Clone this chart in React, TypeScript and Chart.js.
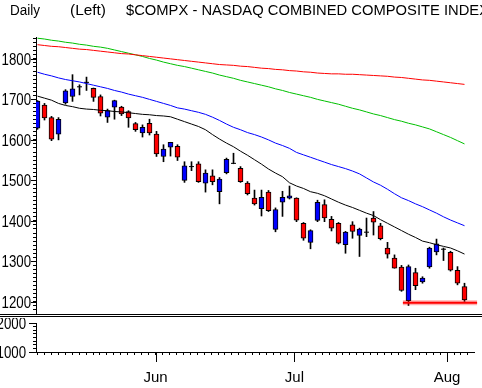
import React, { useEffect, useRef } from 'react';
import { Chart, registerables } from 'chart.js';

Chart.register(...registerables);

// ---- data ----
const dates = [
  '2002-05-08','2002-05-09','2002-05-10','2002-05-13','2002-05-14','2002-05-15','2002-05-16','2002-05-17','2002-05-20','2002-05-21',
  '2002-05-22','2002-05-23','2002-05-24','2002-05-28','2002-05-29','2002-05-30','2002-05-31',
  '2002-06-03','2002-06-04','2002-06-05','2002-06-06','2002-06-07','2002-06-10','2002-06-11','2002-06-12','2002-06-13','2002-06-14',
  '2002-06-17','2002-06-18','2002-06-19','2002-06-20','2002-06-21','2002-06-24','2002-06-25','2002-06-26','2002-06-27','2002-06-28',
  '2002-07-01','2002-07-02','2002-07-03','2002-07-05','2002-07-08','2002-07-09','2002-07-10','2002-07-11','2002-07-12','2002-07-15',
  '2002-07-16','2002-07-17','2002-07-18','2002-07-19','2002-07-22','2002-07-23','2002-07-24','2002-07-25','2002-07-26','2002-07-29',
  '2002-07-30','2002-07-31','2002-08-01','2002-08-02','2002-08-05'
];

const opens = [1629,1686,1655,1614,1691,1707,1731,1742,1727,1707, 1656,1681,1681,1670,1640,1617,1641,1614,1559,1582, 1584,1500,1534,1541,1493,1511,1472,1519,1542,1530, 1493,1456,1430,1471,1379,1446,1456,1456,1394,1347, 1401,1440,1404,1394,1341,1390,1364,1372,1407,1388, 1333,1308,1286,1203,1272,1249,1286,1323,1330,1322, 1278,1238];
const highs = [1697,1690,1658,1655,1724,1761,1736,1755,1728,1711, 1676,1698,1683,1672,1643,1637,1651,1621,1588,1594, 1588,1546,1546,1546,1526,1526,1507,1555,1567,1534, 1497,1476,1476,1475,1432,1473,1486,1457,1396,1378, 1451,1452,1411,1396,1374,1398,1382,1407,1423,1394, 1347,1316,1290,1291,1283,1262,1335,1355,1333,1325, 1287,1246];
const lows = [1626,1649,1598,1600,1688,1695,1711,1722,1695,1659, 1643,1651,1660,1631,1621,1607,1612,1559,1546,1560, 1549,1495,1524,1495,1471,1489,1442,1516,1541,1495, 1464,1439,1412,1423,1373,1411,1454,1398,1352,1331, 1398,1398,1375,1343,1320,1357,1312,1361,1365,1353, 1308,1283,1226,1191,1230,1246,1283,1316,1302,1276, 1242,1201];
const closes = [1696,1654,1602,1651,1721,1726,1731,1742,1705,1666, 1672,1697,1664,1654,1625,1631,1617,1565,1577,1594, 1557,1536,1534,1497,1518,1497,1503,1552,1542,1497, 1467,1442,1458,1425,1428,1458,1462,1402,1357,1376, 1446,1407,1382,1345,1372,1374,1380,1372,1397,1356, 1318,1283,1228,1287,1240,1259,1333,1343,1330,1278, 1246,1205];

const maBlack = [1708,1703,1698,1690,1685,1682,1678,1676,1675,1673, 1672,1670,1669,1667,1665,1663,1662,1660,1659,1657, 1651,1645,1639,1633,1625,1613,1602,1592,1583,1572, 1562,1551,1540,1528,1518,1509,1494,1486,1480,1472, 1468,1462,1454,1446,1439,1433,1426,1419,1413,1403, 1394,1385,1376,1367,1359,1350,1346,1341,1337,1333, 1326,1318];
const maBlue = [1767,1762,1758,1753,1749,1746,1743,1739,1735,1731, 1727,1722,1718,1713,1709,1705,1700,1695,1690,1685, 1679,1676,1672,1668,1663,1656,1648,1639,1631,1625, 1618,1613,1607,1600,1592,1586,1579,1569,1563,1557, 1551,1545,1539,1534,1529,1523,1516,1506,1496,1488, 1478,1467,1457,1450,1442,1435,1427,1419,1410,1402, 1395,1388];
const maGreen = [1851,1849,1846,1844,1841,1839,1836,1834,1831,1829, 1826,1822,1818,1814,1810,1806,1801,1797,1792,1788, 1784,1781,1777,1773,1769,1765,1760,1756,1752,1747, 1743,1739,1735,1731,1726,1722,1717,1713,1709,1705, 1700,1696,1692,1688,1683,1678,1674,1669,1664,1660, 1655,1650,1646,1641,1637,1632,1627,1620,1613,1606, 1598,1590];
const maRed = [1835,1833,1831,1830,1828,1826,1824,1823,1821,1819, 1817,1815,1813,1812,1810,1808,1806,1804,1802,1800, 1798,1796,1794,1792,1790,1788,1786,1785,1784,1782, 1781,1779,1777,1776,1774,1773,1771,1770,1768,1767, 1765,1764,1763,1763,1762,1762,1761,1760,1759,1758, 1757,1755,1754,1752,1750,1748,1747,1745,1743,1741, 1739,1737];

const supportLevel = 1198;
const supportFrom = 52.2;
const supportTo = 62.8;

const priceMin = 1170;
const priceMax = 1854;
const priceTickStep = 10;
const priceLabelStep = 100;
const volMin = 1000;
const volMax = 2000;
const volTickStep = 125;
const volLabels = [1000, 2000];

const titleParts = ['Daily', '(Left)', '$COMPX - NASDAQ COMBINED COMPOSITE INDEX'];
const monthNames = ['Jan','Feb','Mar','Apr','May','Jun','Jul','Aug','Sep','Oct','Nov','Dec'];

// ---- style ----
const AXIS_FONT = "'Liberation Sans', Arial, sans-serif";
const TITLE_FONT = "'Liberation Sans', Arial, sans-serif";
const UP = '#0000ff';
const DOWN = '#ff0000';
const X_MIN = -1.5 / 7;
const X_MAX = X_MIN + 442 / 7;

export default function App() {
  const mainRef = useRef<HTMLCanvasElement>(null);
  const volRef = useRef<HTMLCanvasElement>(null);

  useEffect(() => {
    const n = dates.length;
    const idx = dates.map((_, i) => i);
    const isDoji = idx.map((i) => opens[i] === closes[i]);
    const monthStart: Record<number, string> = {};
    for (let i = 1; i < n; i++) {
      const m0 = dates[i - 1].slice(5, 7);
      const m1 = dates[i].slice(5, 7);
      if (m0 !== m1) monthStart[i] = monthNames[parseInt(m1, 10) - 1];
    }

    const wickData = idx.map((i) => ({ x: i, y: [lows[i], highs[i]] }));
    const bodyIdx = idx.filter((i) => !isDoji[i]);
    const bodyData = bodyIdx.map((i) => ({ x: i, y: [opens[i], closes[i]] }));
    const bodyColors = bodyIdx.map((i) => (closes[i] > opens[i] ? UP : DOWN));
    const dojiData = idx.filter((i) => isDoji[i]).map((i) => ({ x: i, y: closes[i] }));
    const line = (arr: number[]) => arr.map((v, i) => ({ x: i, y: v }));

    const titlePlugin = {
      id: 'titleText',
      afterDraw(chart: any) {
        const ctx = chart.ctx;
        ctx.save();
        ctx.fillStyle = '#000';
        ctx.font = `14px ${TITLE_FONT}`;
        ctx.textBaseline = 'alphabetic';
        const xs = [10, 70, 126];
        const widths = [30, 36, 363];
        titleParts.forEach((t, k) => {
          const w = ctx.measureText(t).width;
          ctx.save();
          ctx.translate(xs[k], 15);
          ctx.scale(widths[k] / w, 1);
          ctx.fillText(t, 0, 0);
          ctx.restore();
        });
        ctx.restore();
      },
    };

    // y-axis labels drawn from the library's own tick list, with a narrow glyph width
    const yAxisLabels = (show: (v: number) => boolean, rightX: number, major: number) => ({
      id: 'yAxisLabels',
      afterDraw(chart: any) {
        const s = chart.scales.y;
        const ctx = chart.ctx;
        const left = chart.chartArea.left;
        ctx.save();
        ctx.fillStyle = '#000';
        ctx.strokeStyle = '#000';
        ctx.lineWidth = 1;
        ctx.font = `17px ${AXIS_FONT}`;
        ctx.textAlign = 'right';
        ctx.textBaseline = 'middle';
        s.ticks.forEach((t: any) => {
          const v = t.value;
          if (!show(v)) return;
          const y = Math.round(s.getPixelForValue(v)) + 0.5;
          ctx.beginPath();
          ctx.moveTo(left - major, y);
          ctx.lineTo(left, y);
          ctx.stroke();
          ctx.save();
          ctx.translate(rightX, y + 1);
          ctx.scale(0.78, 1);
          ctx.fillText(String(v), 0, 0);
          ctx.restore();
        });
        ctx.restore();
      },
    });

    const majorXTicks = {
      id: 'majorXTicks',
      afterDraw(chart: any) {
        const s = chart.scales.x;
        const ctx = chart.ctx;
        const b = chart.chartArea.bottom;
        ctx.save();
        ctx.strokeStyle = '#000';
        ctx.lineWidth = 1;
        Object.keys(monthStart).forEach((k) => {
          const x = Math.round(s.getPixelForValue(Number(k))) + 0.5;
          ctx.beginPath();
          ctx.moveTo(x, b);
          ctx.lineTo(x, b + 10);
          ctx.stroke();
        });
        ctx.restore();
      },
    };

    const main = new Chart(mainRef.current as HTMLCanvasElement, {
      type: 'bar',
      data: {
        datasets: [
          { type: 'line', data: line(maRed), borderColor: '#ff0000', borderWidth: 1, pointRadius: 0, order: 0 } as any,
          { type: 'line', data: line(maGreen), borderColor: '#00c000', borderWidth: 1, pointRadius: 0, order: 0 } as any,
          { type: 'line', data: line(maBlue), borderColor: '#0000ff', borderWidth: 1, pointRadius: 0, order: 0 } as any,
          { type: 'line', data: line(maBlack), borderColor: '#000000', borderWidth: 1, pointRadius: 0, order: 0 } as any,
          { type: 'line', data: [{ x: supportFrom, y: supportLevel }, { x: supportTo, y: supportLevel }], borderColor: 'rgba(255,0,0,0.3)', borderWidth: 5, pointRadius: 0, order: 0 } as any,
          { type: 'line', data: [{ x: supportFrom, y: supportLevel }, { x: supportTo, y: supportLevel }], borderColor: '#ff0000', borderWidth: 2, pointRadius: 0, order: 0 } as any,
          { type: 'bar', data: wickData, backgroundColor: '#000', barThickness: 1, grouped: false, order: 3 } as any,
          { type: 'bar', data: bodyData, backgroundColor: bodyColors, borderColor: '#000', borderWidth: 1, borderSkipped: false, barThickness: 5, grouped: false, order: 2 } as any,
          { type: 'scatter', data: dojiData, pointStyle: 'line', radius: 2.5, borderColor: '#000', borderWidth: 1, order: 1 } as any,
        ],
      },
      options: {
        animation: false,
        responsive: false,
        devicePixelRatio: 1,
        layout: { autoPadding: false, padding: { left: 0, right: 4, top: 37, bottom: 0 } },
        plugins: { legend: { display: false }, tooltip: { enabled: false }, title: { display: false } },
        scales: {
          x: { type: 'linear', min: X_MIN, max: X_MAX, display: false, offset: false },
          y: {
            type: 'linear',
            min: priceMin,
            max: priceMax,
            afterFit: (s: any) => { s.width = 36; },
            afterBuildTicks: (s: any) => {
              const t = [];
              for (let v = priceMin; v <= priceMax; v += priceTickStep) t.push({ value: v });
              s.ticks = t;
            },
            ticks: { display: false, autoSkip: false },
            grid: { drawOnChartArea: false, drawTicks: true, tickLength: 3, color: '#000' },
            border: { display: true, color: '#000' },
          },
        },
      },
      plugins: [titlePlugin, yAxisLabels((v) => v % priceLabelStep === 0, 31, 5)],
    } as any);

    const vol = new Chart(volRef.current as HTMLCanvasElement, {
      type: 'line',
      data: { datasets: [] },
      options: {
        animation: false,
        responsive: false,
        devicePixelRatio: 1,
        layout: { autoPadding: false, padding: { left: 0, right: 4, top: 5, bottom: 0 } },
        plugins: { legend: { display: false }, tooltip: { enabled: false } },
        scales: {
          x: {
            type: 'linear',
            min: X_MIN,
            max: X_MAX,
            afterFit: (s: any) => { s.height = 36; },
            afterBuildTicks: (s: any) => {
              const t = [];
              for (let i = 0; i <= n; i++) t.push({ value: i });
              s.ticks = t;
            },
            ticks: {
              autoSkip: false,
              maxRotation: 0,
              minRotation: 0,
              padding: 14,
              color: '#000',
              font: { family: AXIS_FONT, size: 15 },
              callback: (v: any) => monthStart[Number(v)] || '',
            },
            grid: { drawOnChartArea: false, drawTicks: true, tickLength: 3, color: '#000' },
            border: { display: true, color: '#000' },
          },
          y: {
            type: 'linear',
            min: volMin,
            max: volMax,
            afterFit: (s: any) => { s.width = 36; },
            afterBuildTicks: (s: any) => {
              const t = [];
              for (let v = volMin; v <= volMax; v += volTickStep) t.push({ value: v });
              s.ticks = t;
            },
            ticks: { display: false, autoSkip: false },
            grid: { drawOnChartArea: false, drawTicks: true, tickLength: 3, color: '#000' },
            border: { display: true, color: '#000' },
          },
        },
      },
      plugins: [yAxisLabels((v) => volLabels.includes(v), 26, 7), majorXTicks],
    } as any);

    return () => {
      main.destroy();
      vol.destroy();
    };
  }, []);

  return (
    <div style={{ position: 'absolute', left: 0, top: 0, width: 482, height: 388, background: '#fff', overflow: 'hidden' }}>
      <canvas ref={mainRef} width={482} height={314} style={{ position: 'absolute', left: 0, top: 0 }} />
      <div style={{ position: 'absolute', left: 0, top: 314, width: 482, height: 1, borderTop: '1px solid #000', borderBottom: '1px solid #000' }} />
      <canvas ref={volRef} width={482} height={70} style={{ position: 'absolute', left: 0, top: 318 }} />
    </div>
  );
}
